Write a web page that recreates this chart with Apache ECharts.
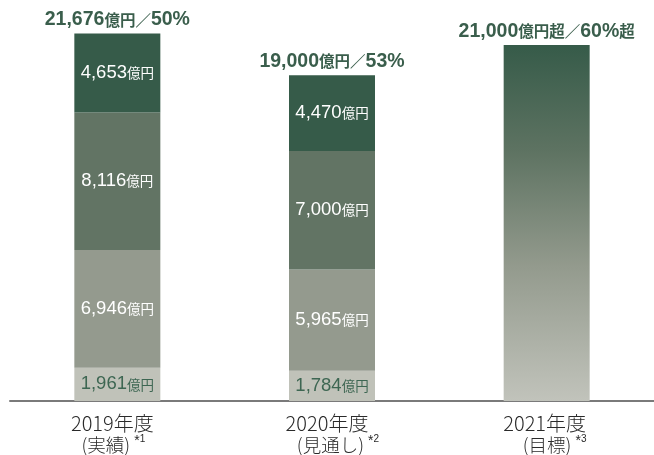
<!DOCTYPE html>
<html>
<head>
<meta charset="utf-8">
<script src="https://cdn.jsdelivr.net/npm/echarts@6/dist/echarts.min.js"></script>
<style>
  html, body { margin: 0; padding: 0; background: #ffffff; }
  #chart { width: 654px; height: 455px; }
</style>
</head>
<body>
<div id="chart"></div>
<script>
// Fiscal years and their notes
const years = ['2019年度', '2020年度', '2021年度'];
const notes = ['(実績)', '(見通し)', '(目標)'];
const noteMarks = ['1', '2', '3'];

// Stacked segments (億円), bottom to top
const segBottom = [1961, 1784, '-'];
const segLower  = [6946, 5965, '-'];
const segUpper  = [8116, 7000, '-'];
const segTop    = [4653, 4470, '-'];

// Target bar for 2021 (億円)
const targetValues = ['-', '-', 21000];

// Total labels above each bar
const totalAmounts = ['21,676', '19,000', '21,000'];
const totalQualifiers = ['', '', '超'];
const shareLabels = ['50%', '53%', '60%'];
const shareQualifiers = ['', '', '超'];

const NUM_FONT = "'Liberation Sans', 'Noto Sans CJK JP', sans-serif";
const CJK_FONT = "'Noto Sans CJK JP', sans-serif";

function innerLabel(color) {
  return {
    show: true,
    position: 'inside',
    formatter: p => `{n|${Number(p.value).toLocaleString('en-US')}}{u|億円}`,
    rich: {
      n: { fontSize: 18.5, color: color, fontFamily: NUM_FONT },
      u: { fontSize: 13.5, color: color, fontFamily: CJK_FONT }
    }
  };
}

function segment(name, data, color, labelColor) {
  return {
    name: name,
    type: 'bar',
    stack: 'total',
    barWidth: 86,
    data: data,
    itemStyle: { color: color },
    label: innerLabel(labelColor),
    emphasis: { disabled: true }
  };
}

const chart = echarts.init(document.getElementById('chart'), null, { renderer: 'canvas' });

chart.setOption({
  animation: false,
  backgroundColor: '#ffffff',
  grid: { left: 10, right: 0, top: 28, bottom: 54 },
  xAxis: {
    type: 'category',
    data: years,
    axisLine: { lineStyle: { color: '#7a7a7a', width: 2 } },
    axisTick: { show: false },
    axisLabel: {
      interval: 0,
      hideOverlap: false,
      margin: 11,
      formatter: (val, idx) =>
        `{y|${val}}{r${idx}| }\n{l${idx}| }{n|${notes[idx]} }{ast|*}{sup|${noteMarks[idx]}}{t${idx}| }`,
      rich: {
        y: { fontSize: 20, color: '#2a2a2a', fontFamily: CJK_FONT, fontWeight: 300, lineHeight: 22 },
        n: { fontSize: 18.5, color: '#2a2a2a', fontFamily: CJK_FONT, fontWeight: 300, lineHeight: 22 },
        ast: { fontSize: 14, color: '#2a2a2a', fontFamily: NUM_FONT, lineHeight: 14, verticalAlign: 'top' },
        sup: { fontSize: 10, color: '#2a2a2a', fontFamily: NUM_FONT, lineHeight: 12, verticalAlign: 'top' },
        r0: { width: 10 }, r1: { width: 10 }, r2: { width: 4 },
        l0: { width: 0 }, l1: { width: 12 }, l2: { width: 16 },
        t0: { width: 8 }, t1: { width: 0 }, t2: { width: 0 }
      }
    }
  },
  yAxis: { type: 'value', min: 0, max: 22000, show: false, splitLine: { show: false } },
  series: [
    segment('bottom', segBottom, '#c0c2b9', '#3d6652'),
    segment('lower', segLower, '#949a8e', '#ffffff'),
    segment('upper', segUpper, '#627464', '#ffffff'),
    segment('top', segTop, '#365b49', '#ffffff'),
    {
      name: 'target',
      type: 'bar',
      stack: 'total',
      barWidth: 86,
      data: targetValues,
      itemStyle: {
        color: new echarts.graphic.LinearGradient(0, 0, 0, 1, [
          { offset: 0, color: '#365b49' },
          { offset: 0.3, color: '#5e7362' },
          { offset: 0.62, color: '#939a8d' },
          { offset: 1, color: '#c1c3bb' }
        ])
      },
      emphasis: { disabled: true }
    },
    {
      name: 'totals',
      type: 'bar',
      stack: 'total',
      barWidth: 86,
      data: years.map(() => 0),
      itemStyle: { color: 'rgba(0,0,0,0)' },
      label: {
        show: true,
        position: 'top',
        distance: 4,
        formatter: p => {
          const i = p.dataIndex;
          return `{t|${totalAmounts[i]}}{u|億円${totalQualifiers[i]}／}{t|${shareLabels[i]}}{u|${shareQualifiers[i]}}`;
        },
        rich: {
          t: { fontSize: 19.5, fontWeight: 'bold', color: '#3a5e4c', fontFamily: NUM_FONT },
          u: { fontSize: 15.5, fontWeight: 'bold', color: '#3a5e4c', fontFamily: CJK_FONT }
        }
      },
      emphasis: { disabled: true }
    }
  ]
});
</script>
</body>
</html>
